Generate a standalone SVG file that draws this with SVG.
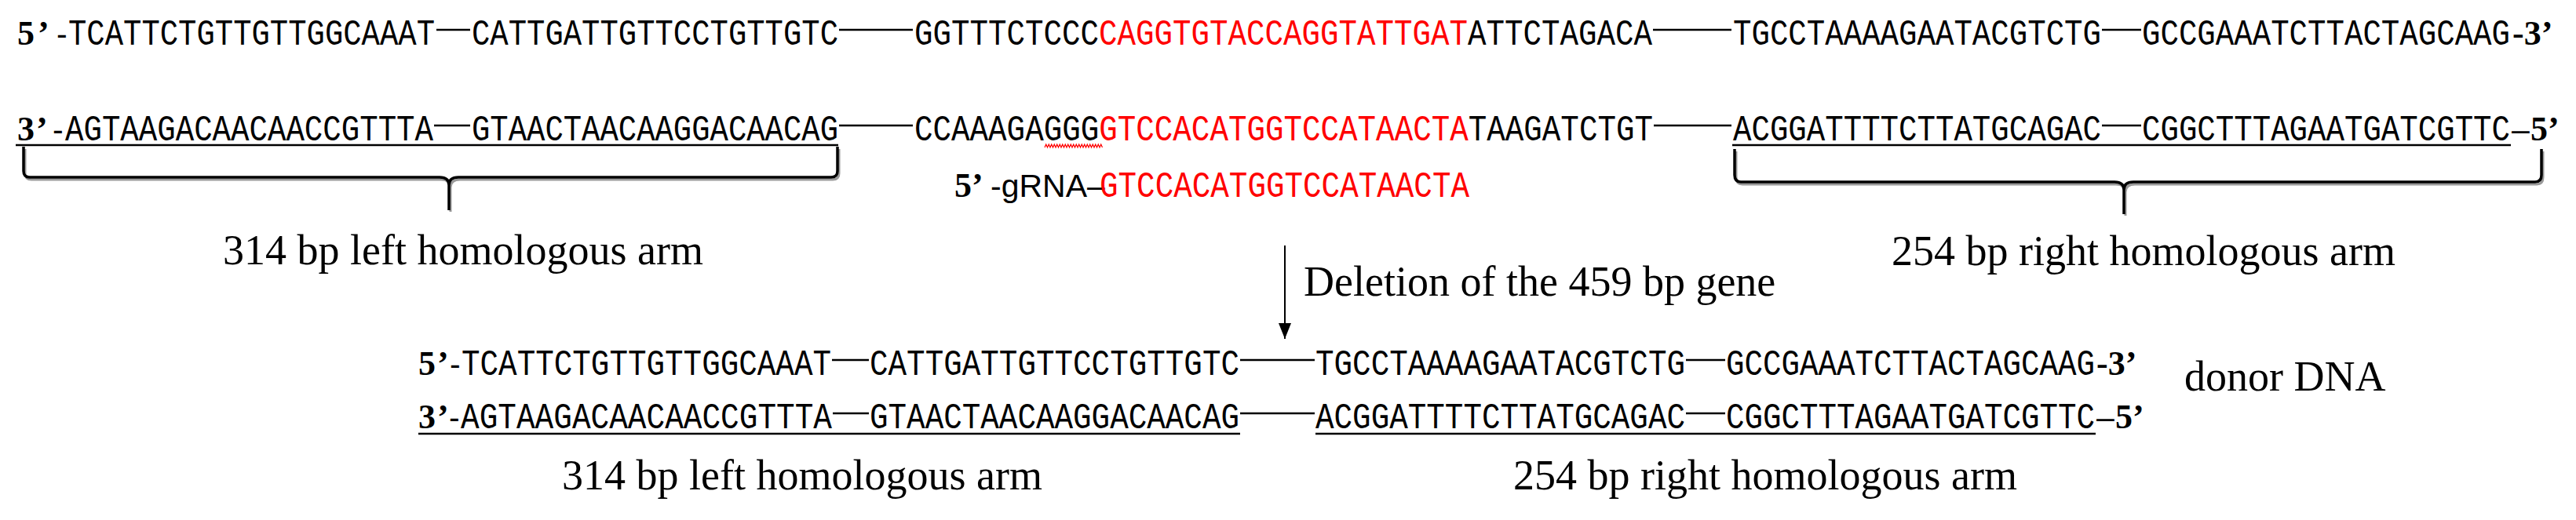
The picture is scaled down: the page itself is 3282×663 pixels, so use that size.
<svg xmlns="http://www.w3.org/2000/svg" width="3282" height="663" viewBox="0 0 3282 663">
<style>
.seq{font-family:"Liberation Mono","DejaVu Sans Mono",monospace;font-size:46px;fill:#000}
.red{fill:#ff0000}
.end{font-family:"Liberation Serif","Times New Roman",serif;font-weight:bold;font-size:44px;fill:#000}
.dsh{font-family:"Liberation Sans",Arial,sans-serif;font-size:41px;font-weight:normal;fill:#000}
.lbl{font-family:"Liberation Serif","Times New Roman",serif;font-size:54px;fill:#000}
.ln{stroke:#000;stroke-width:2.5;fill:none}
.brace{fill:none;stroke:#000;stroke-width:3.5;stroke-linejoin:round}
.shadow{fill:none;stroke:#9a9a9a;stroke-width:3}
</style>
<defs>
<marker id="arrowhead" markerWidth="20" markerHeight="16" refX="20" refY="8" orient="auto" markerUnits="userSpaceOnUse" viewBox="0 0 20 16">
<path d="M0,0 L20,8 L0,16 Z" fill="#000"/>
</marker>
</defs>
<rect width="3282" height="663" fill="#fff"/>

<g id="top-strand-5">
<text class="end" x="22" y="57"><tspan letter-spacing="4">5’</tspan><tspan class="dsh" x="72">-</tspan></text>
<text class="seq" x="87" y="57" textLength="467" lengthAdjust="spacingAndGlyphs">TCATTCTGTTGTTGGCAAAT</text>
<text class="seq" x="601" y="57" textLength="467" lengthAdjust="spacingAndGlyphs">CATTGATTGTTCCTGTTGTC</text>
<text class="seq" x="1165" y="57" textLength="940" lengthAdjust="spacingAndGlyphs">GGTTTCTCCC<tspan class="red">CAGGTGTACCAGGTATTGAT</tspan>ATTCTAGACA</text>
<text class="seq" x="2208" y="57" textLength="469" lengthAdjust="spacingAndGlyphs">TGCCTAAAAGAATACGTCTG</text>
<text class="seq" x="2729" y="57" textLength="469" lengthAdjust="spacingAndGlyphs">GCCGAAATCTTACTAGCAAG</text>
<text class="end" x="3201" y="57">-3’</text>
</g>

<g id="top-strand-3">
<text class="end" x="22" y="179"><tspan letter-spacing="2">3’</tspan><tspan class="dsh" x="67">-</tspan></text>
<text class="seq" x="83" y="179" textLength="469" lengthAdjust="spacingAndGlyphs">AGTAAGACAACAACCGTTTA</text>
<text class="seq" x="601" y="179" textLength="467" lengthAdjust="spacingAndGlyphs">GTAACTAACAAGGACAACAG</text>
<text class="seq" x="1165" y="179" textLength="941" lengthAdjust="spacingAndGlyphs">CCAAAGAGGG<tspan class="red">GTCCACATGGTCCATAACTA</tspan>TAAGATCTGT</text>
<text class="seq" x="2208" y="179" textLength="469" lengthAdjust="spacingAndGlyphs">ACGGATTTTCTTATGCAGAC</text>
<text class="seq" x="2729" y="179" textLength="469" lengthAdjust="spacingAndGlyphs">CGGCTTTAGAATGATCGTTC</text>
<text class="dsh" x="3200" y="179">–<tspan class="end" x="3224">5’</tspan></text>
<path d="M1331,188 l1.75,-4 l1.75,4 l1.75,-4 l1.75,4 l1.75,-4 l1.75,4 l1.75,-4 l1.75,4 l1.75,-4 l1.75,4 l1.75,-4 l1.75,4 l1.75,-4 l1.75,4 l1.75,-4 l1.75,4 l1.75,-4 l1.75,4 l1.75,-4 l1.75,4 l1.75,-4 l1.75,4 l1.75,-4 l1.75,4 l1.75,-4 l1.75,4 l1.75,-4 l1.75,4 l1.75,-4 l1.75,4 l1.75,-4 l1.75,4 l1.75,-4 l1.75,4 l1.75,-4 l1.75,4 l1.75,-4 l1.75,4 l1.75,-4 l1.75,4 l1.75,-4 l1.75,4" fill="none" stroke="#ff0000" stroke-width="1.2"/>
</g>

<g id="grna">
<text class="end" x="1216" y="251">5’<tspan class="dsh" x="1262" font-size="38">-gRNA–</tspan></text>
<text class="seq red" x="1401" y="251" textLength="471" lengthAdjust="spacingAndGlyphs">GTCCACATGGTCCATAACTA</text>
</g>

<g id="left-arm-brace">
<path class="shadow" d="M32,190 L32,221 Q32,229 40,229 L562,229 Q574,229 574,239 L574,270 M574,239 Q574,229 586,229 L1061,229 Q1069,229 1069,221 L1069,190"/>
<path class="brace" d="M30,187 L30,218 Q30,226 38,226 L560,226 Q572,226 572,236 L572,268 M572,236 Q572,226 584,226 L1059,226 Q1067,226 1067,218 L1067,187"/>
<text class="lbl" x="284" y="337">314 bp left homologous arm</text>
</g>

<g id="right-arm-brace">
<path class="shadow" d="M2212,193 L2212,226 Q2212,235 2220,235 L2696,235 Q2708,235 2708,245 L2708,275 M2708,245 Q2708,235 2720,235 L3232,235 Q3240,235 3240,226 L3240,193"/>
<path class="brace" d="M2210,190 L2210,223 Q2210,232 2218,232 L2694,232 Q2706,232 2706,242 L2706,273 M2706,242 Q2706,232 2718,232 L3230,232 Q3238,232 3238,223 L3238,190"/>
<text class="lbl" x="2410" y="338">254 bp right homologous arm</text>
</g>

<g id="deletion-label">
<text class="lbl" x="1661" y="377">Deletion of the 459 bp gene</text>
</g>

<g id="donor-strand-5">
<text class="end" x="533" y="478"><tspan letter-spacing="2">5’</tspan><tspan class="dsh" x="573">-</tspan></text>
<text class="seq" x="588" y="478" textLength="471" lengthAdjust="spacingAndGlyphs">TCATTCTGTTGTTGGCAAAT</text>
<text class="seq" x="1108" y="478" textLength="471" lengthAdjust="spacingAndGlyphs">CATTGATTGTTCCTGTTGTC</text>
<text class="seq" x="1676" y="478" textLength="471" lengthAdjust="spacingAndGlyphs">TGCCTAAAAGAATACGTCTG</text>
<text class="seq" x="2199" y="478" textLength="470" lengthAdjust="spacingAndGlyphs">GCCGAAATCTTACTAGCAAG</text>
<text class="end" x="2671" y="478">-3’</text>
</g>

<g id="donor-strand-3">
<text class="end" x="533" y="546"><tspan letter-spacing="2">3’</tspan><tspan class="dsh" x="572">-</tspan></text>
<text class="seq" x="587" y="546" textLength="473" lengthAdjust="spacingAndGlyphs">AGTAAGACAACAACCGTTTA</text>
<text class="seq" x="1108" y="546" textLength="471" lengthAdjust="spacingAndGlyphs">GTAACTAACAAGGACAACAG</text>
<text class="seq" x="1676" y="546" textLength="471" lengthAdjust="spacingAndGlyphs">ACGGATTTTCTTATGCAGAC</text>
<text class="seq" x="2199" y="546" textLength="470" lengthAdjust="spacingAndGlyphs">CGGCTTTAGAATGATCGTTC</text>
<text class="dsh" x="2671" y="546">–<tspan class="end" x="2695">5’</tspan></text>
</g>

<g id="donor-label">
<text class="lbl" x="2783" y="498">donor DNA</text>
</g>

<g id="donor-arm-labels">
<text class="lbl" x="716" y="624">314 bp left homologous arm</text>
<text class="lbl" x="1928" y="624">254 bp right homologous arm</text>
</g>

<g id="connectors">
<line class="ln" x1="556" y1="38" x2="599" y2="38"/>
<line class="ln" x1="1069" y1="38" x2="1163" y2="38"/>
<line class="ln" x1="2106" y1="38" x2="2206" y2="38"/>
<line class="ln" x1="2678" y1="38" x2="2728" y2="38"/>
<line class="ln" x1="553" y1="160" x2="599" y2="160"/>
<line class="ln" x1="1069" y1="160" x2="1163" y2="160"/>
<line class="ln" x1="2107" y1="160" x2="2206" y2="160"/>
<line class="ln" x1="2678" y1="160" x2="2728" y2="160"/>
<line class="ln" x1="20" y1="185" x2="1068" y2="185"/>
<line class="ln" x1="2207" y1="185" x2="3199" y2="185"/>
<line class="ln" x1="1060" y1="459" x2="1107" y2="459"/>
<line class="ln" x1="1580" y1="459" x2="1675" y2="459"/>
<line class="ln" x1="2148" y1="459" x2="2198" y2="459"/>
<line class="ln" x1="1061" y1="527" x2="1107" y2="527"/>
<line class="ln" x1="1580" y1="527" x2="1675" y2="527"/>
<line class="ln" x1="2148" y1="527" x2="2198" y2="527"/>
<line class="ln" x1="533" y1="553" x2="1580" y2="553"/>
<line class="ln" x1="1676" y1="553" x2="2670" y2="553"/>
<line x1="1637" y1="313" x2="1637" y2="432" stroke="#000" stroke-width="2" marker-end="url(#arrowhead)"/>
</g>
</svg>
